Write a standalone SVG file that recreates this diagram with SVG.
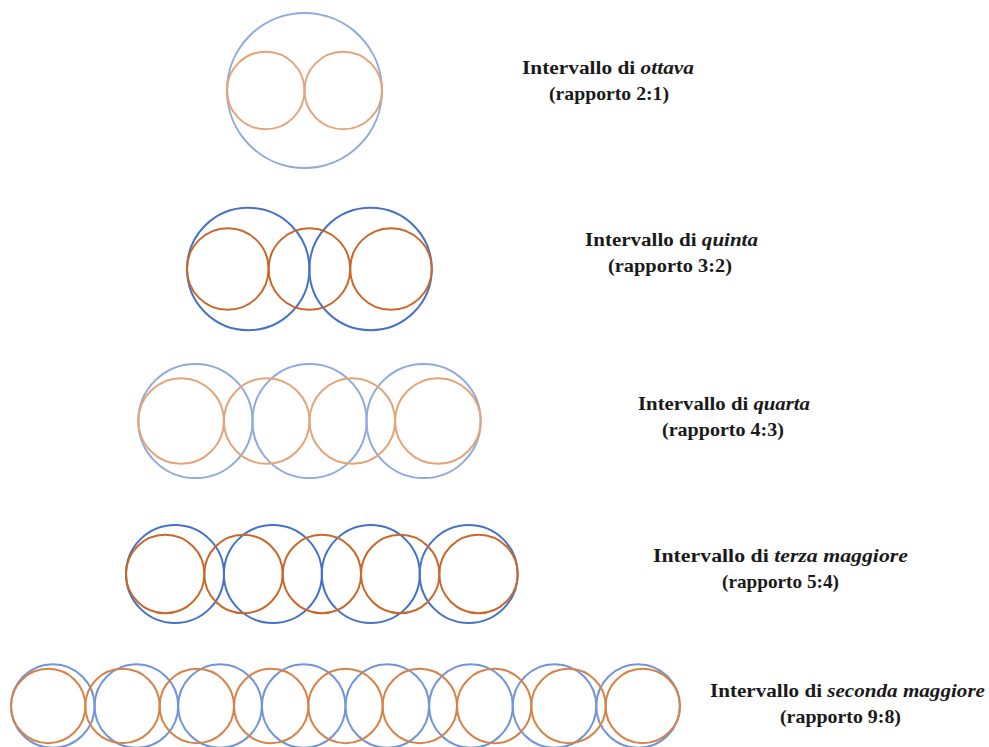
<svg xmlns="http://www.w3.org/2000/svg" width="989" height="747" viewBox="0 0 989 747">
<style>
.c{fill:none;stroke-width:2}
.bl{stroke:#8FAADC}
.ol{stroke:#E3A577}
.bd{stroke:#4472C4}
.od{stroke:#C8682A}
.bm{stroke:#7195D6}
.om{stroke:#D6834A}
.t{font-family:"Liberation Serif","Times New Roman",serif;font-weight:bold;font-size:19px;fill:#1a1a1a}
.i{font-style:italic}
</style>
<rect width="989" height="747" fill="#ffffff"/>
<g id="ottava">
<circle class="c bl" cx="304.5" cy="90.5" r="77.5"/>
<circle class="c ol" cx="265.75" cy="90.5" r="38.75"/>
<circle class="c ol" cx="343.25" cy="90.5" r="38.75"/>
<text class="t" x="522" y="74" textLength="172" lengthAdjust="spacingAndGlyphs">Intervallo di <tspan class="i">ottava</tspan></text>
<text class="t" x="549" y="100" textLength="120" lengthAdjust="spacingAndGlyphs">(rapporto 2:1)</text>
</g>
<g id="quinta">
<circle class="c bd" cx="248.2" cy="269" r="61.2"/>
<circle class="c bd" cx="370.6" cy="269" r="61.2"/>
<circle class="c od" cx="227.8" cy="269" r="40.8"/>
<circle class="c od" cx="309.4" cy="269" r="40.8"/>
<circle class="c od" cx="391" cy="269" r="40.8"/>
<text class="t" x="585" y="246" textLength="173" lengthAdjust="spacingAndGlyphs">Intervallo di <tspan class="i">quinta</tspan></text>
<text class="t" x="608" y="272" textLength="124" lengthAdjust="spacingAndGlyphs">(rapporto 3:2)</text>
</g>
<g id="quarta">
<circle class="c bl" cx="195.4" cy="421" r="57.1"/>
<circle class="c bl" cx="309.5" cy="421" r="57.1"/>
<circle class="c bl" cx="423.6" cy="421" r="57.1"/>
<circle class="c ol" cx="181.1" cy="421" r="42.8"/>
<circle class="c ol" cx="266.7" cy="421" r="42.8"/>
<circle class="c ol" cx="352.3" cy="421" r="42.8"/>
<circle class="c ol" cx="437.9" cy="421" r="42.8"/>
<text class="t" x="638" y="410" textLength="172" lengthAdjust="spacingAndGlyphs">Intervallo di <tspan class="i">quarta</tspan></text>
<text class="t" x="662" y="436" textLength="122" lengthAdjust="spacingAndGlyphs">(rapporto 4:3)</text>
</g>
<g id="terza">
<circle class="c bd" cx="175" cy="574" r="49"/>
<circle class="c bd" cx="272.9" cy="574" r="49"/>
<circle class="c bd" cx="370.8" cy="574" r="49"/>
<circle class="c bd" cx="468.7" cy="574" r="49"/>
<circle class="c od" cx="165.2" cy="574" r="39.2"/>
<circle class="c od" cx="243.5" cy="574" r="39.2"/>
<circle class="c od" cx="321.9" cy="574" r="39.2"/>
<circle class="c od" cx="400.2" cy="574" r="39.2"/>
<circle class="c od" cx="478.5" cy="574" r="39.2"/>
<text class="t" x="653" y="562" textLength="255" lengthAdjust="spacingAndGlyphs">Intervallo di <tspan class="i">terza maggiore</tspan></text>
<text class="t" x="722" y="588" textLength="117" lengthAdjust="spacingAndGlyphs">(rapporto 5:4)</text>
</g>
<g id="seconda">
<circle class="c bm" cx="52.8" cy="706" r="41.8"/>
<circle class="c bm" cx="136.4" cy="706" r="41.8"/>
<circle class="c bm" cx="220" cy="706" r="41.8"/>
<circle class="c bm" cx="303.7" cy="706" r="41.8"/>
<circle class="c bm" cx="387.3" cy="706" r="41.8"/>
<circle class="c bm" cx="470.9" cy="706" r="41.8"/>
<circle class="c bm" cx="554.5" cy="706" r="41.8"/>
<circle class="c bm" cx="638.1" cy="706" r="41.8"/>
<circle class="c om" cx="48.2" cy="706" r="37.2"/>
<circle class="c om" cx="122.5" cy="706" r="37.2"/>
<circle class="c om" cx="196.8" cy="706" r="37.2"/>
<circle class="c om" cx="271.2" cy="706" r="37.2"/>
<circle class="c om" cx="345.5" cy="706" r="37.2"/>
<circle class="c om" cx="419.8" cy="706" r="37.2"/>
<circle class="c om" cx="494.2" cy="706" r="37.2"/>
<circle class="c om" cx="568.5" cy="706" r="37.2"/>
<circle class="c om" cx="642.8" cy="706" r="37.2"/>
<text class="t" x="710" y="697" textLength="275" lengthAdjust="spacingAndGlyphs">Intervallo di <tspan class="i">seconda maggiore</tspan></text>
<text class="t" x="780" y="723" textLength="121" lengthAdjust="spacingAndGlyphs">(rapporto 9:8)</text>
</g>
<g id="connectors"/>
</svg>
